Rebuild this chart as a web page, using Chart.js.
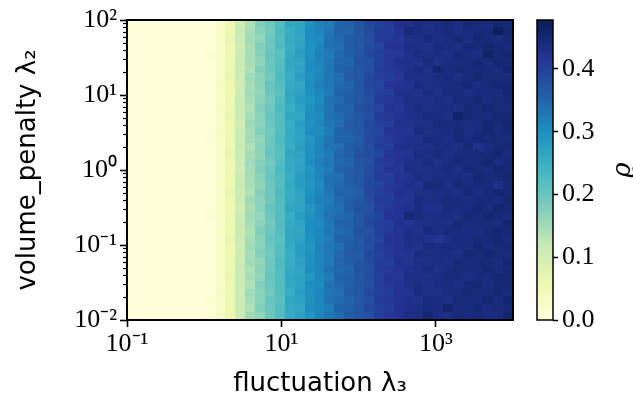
<!DOCTYPE html>
<html>
<head>
<meta charset="utf-8">
<script src="https://cdn.jsdelivr.net/npm/chart.js"></script>
<style>
  html, body { margin: 0; padding: 0; background: #fff; }
  #wrap { position: relative; width: 633px; height: 402px; }
  #mapa { position: absolute; left: 0; top: 0; }
  #barra { position: absolute; left: 530px; top: 0; }
</style>
</head>
<body>
<div id="wrap">
  <canvas id="mapa" width="633" height="402"></canvas>
  <canvas id="barra" width="103" height="402"></canvas>
</div>
<script>
// rango de los ejes (log)
const X_MIN = 0.1, X_MAX = 1e4;
const Y_MIN = 0.01, Y_MAX = 100;
const V_MAX = 0.478;

// nivel medio de rho por columna (izquierda -> derecha)
const nivelColumna = [
  0, 0, 0, 0, 0, 0, 0, 0,
  0.004, 0.025, 0.060,
  0.110, 0.145, 0.169, 0.196, 0.220, 0.258, 0.272, 0.296, 0.312, 0.329,
  0.345, 0.357, 0.369, 0.384, 0.400, 0.412, 0.421, 0.428, 0.432, 0.435,
  0.437, 0.439, 0.441, 0.442, 0.443, 0.445, 0.446, 0.448
];

// variacion de cada celda, fila de arriba primero (digito 4 = sin cambio)
const variacionCeldas = [
  "44444444 444 4354 4534 5354 4544 5453 4535 4354",
  "44444444 454 5443 5345 4453 4453 4754 4534 4485",
  "44444444 445 4534 4435 3545 4354 3445 4453 5434",
  "44444444 444 3454 5344 4535 4435 4543 5435 4543",
  "44444444 544 4445 3454 5344 4544 3454 4354 3745",
  "44444444 454 5434 4535 4453 5344 5435 3444 5354",
  "44444444 444 4354 4445 3454 4354 4453 7454 4435",
  "44444444 445 4543 5354 4435 4543 3544 4534 5443",
  "44444444 454 3445 4435 5443 4535 4354 4445 3454",
  "44444444 444 4534 3544 4354 4443 5435 3543 4435",
  "44444444 344 5443 4453 3545 4354 4543 4354 5344",
  "44444444 454 4354 5344 4453 5435 3454 4435 4543",
  "44444444 445 4445 4535 3544 4354 4445 4375 4354",
  "44444444 444 3544 4354 4435 4543 5344 5443 3545",
  "44444444 454 4453 4445 2354 4435 4354 4453 4534",
  "44444444 544 4534 5443 4453 3544 4435 4354 5443",
  "44444444 444 5344 4354 4535 4453 5443 4435 1344",
  "44444444 445 4435 3544 4354 5435 4354 5344 4453",
  "44444444 454 4543 4435 5443 4354 4445 3454 4534",
  "44444444 444 3454 5443 4354 4445 3544 4535 4354",
  "44444444 434 4445 4354 4535 4453 4354 4443 5445",
  "44444444 454 5434 4453 3544 4534 4435 5354 4414",
  "44444444 445 4354 5344 4453 3544 5344 4435 3454",
  "44444444 444 4543 4435 5344 4453 4354 4543 4435",
  "44444444 454 3445 4543 4435 5344 4453 3544 5354",
  "44444444 544 4534 4354 4543 4435 4754 4435 4543",
  "44444444 444 5443 4445 3454 4543 5344 4354 4435",
  "44444444 454 4354 4535 4443 5344 4435 4543 3454",
  "44444444 445 4445 3544 4354 4435 4543 1344 4453",
  "44444444 444 3544 4453 5435 4354 4435 4543 5344",
  "44444444 454 4453 4354 4445 3544 4354 4435 4543",
  "44444444 344 4534 5344 4354 4453 5344 4354 4435",
  "44444444 454 5344 4435 4543 5354 4445 3454 4534",
  "44444444 445 4435 4543 4354 4445 3544 4543 4354",
  "44444444 444 4354 4445 3544 4354 4453 4435 5344",
  "44444444 454 4543 4354 4435 4543 4354 3445 4453",
  "44444444 544 4445 3544 4543 4354 4435 4354 4535",
  "44444444 444 4354 4435 4354 4543 4445 4744 5344",
  "44444444 454 4534 4443 4435 4354 4547 4354 4335"
];
const PASO = 0.006;

const xTicks = [0.1, 10, 1000];
const xTickLabels = ['10⁻¹', '10¹', '10³'];
const yTicks = [0.01, 0.1, 1, 10, 100];
const yTickLabels = ['10⁻²', '10⁻¹', '10⁰', '10¹', '10²'];
const cbTicks = [0, 0.1, 0.2, 0.3, 0.4];
const cbTickLabels = ['0.0', '0.1', '0.2', '0.3', '0.4'];

const YLGNBU = ['#ffffd9', '#edf8b1', '#c7e9b4', '#7fcdbb', '#41b6c4',
                '#1d91c0', '#225ea8', '#253494', '#081d58'];

// tabla de valores
const N_COLS = nivelColumna.length;
const N_ROWS = variacionCeldas.length;
const valores = variacionCeldas.map(fila => {
  const d = fila.replace(/ /g, '');
  return nivelColumna.map((v, c) => Math.max(0, v + (parseInt(d[c], 10) - 4) * PASO));
});

// bordes de la malla en coordenadas de datos
const xEdges = [], yEdges = [];
for (let k = 0; k <= N_COLS; k++) xEdges.push(X_MIN * Math.pow(X_MAX / X_MIN, k / N_COLS));
for (let k = 0; k <= N_ROWS; k++) yEdges.push(Y_MIN * Math.pow(Y_MAX / Y_MIN, k / N_ROWS));

function hexRgb(h) {
  return [parseInt(h.slice(1, 3), 16), parseInt(h.slice(3, 5), 16), parseInt(h.slice(5, 7), 16)];
}
const paleta = YLGNBU.map(hexRgb);

function colorDe(v) {
  let t = Math.min(Math.max(v / V_MAX, 0), 1) * (paleta.length - 1);
  let i = Math.min(Math.floor(t), paleta.length - 2);
  let f = t - i;
  const a = paleta[i], b = paleta[i + 1];
  return 'rgb(' + [0, 1, 2].map(k => Math.round(a[k] + (b[k] - a[k]) * f)).join(',') + ')';
}

const fuenteTicks = { family: 'Liberation Serif', size: 26 };
const fuenteTitulo = { family: 'DejaVu Sans', size: 26 };

// dibuja las celdas, el marco y los ticks menores del eje y
const pluginMapa = {
  id: 'mapaCalor',
  beforeDatasetsDraw(chart) {
    const { ctx, scales: { x, y } } = chart;
    ctx.save();
    for (let r = 0; r < N_ROWS; r++) {
      const yTop = y.getPixelForValue(yEdges[N_ROWS - r]);
      const yBot = y.getPixelForValue(yEdges[N_ROWS - r - 1]);
      for (let c = 0; c < N_COLS; c++) {
        const x0 = x.getPixelForValue(xEdges[c]);
        const x1 = x.getPixelForValue(xEdges[c + 1]);
        ctx.fillStyle = colorDe(valores[r][c]);
        ctx.fillRect(Math.floor(x0), Math.floor(yTop),
          Math.ceil(x1) - Math.floor(x0), Math.ceil(yBot) - Math.floor(yTop));
      }
    }
    ctx.restore();
  },
  afterDraw(chart) {
    const { ctx, chartArea: a, scales: { y } } = chart;
    ctx.save();
    ctx.strokeStyle = '#000';
    ctx.lineWidth = 1.2;
    for (let e = -2; e < 2; e++) {
      for (let m = 2; m <= 9; m++) {
        const py = Math.round(y.getPixelForValue(m * Math.pow(10, e))) + 0.5;
        ctx.beginPath();
        ctx.moveTo(a.left - 4, py);
        ctx.lineTo(a.left, py);
        ctx.stroke();
      }
    }
    ctx.lineWidth = 2;
    ctx.strokeRect(a.left, a.top, a.right - a.left, a.bottom - a.top);
    ctx.restore();
  }
};

new Chart(document.getElementById('mapa'), {
  type: 'scatter',
  data: { datasets: [{ data: [], pointRadius: 0 }] },
  options: {
    responsive: false,
    animation: false,
    layout: { padding: { top: 20, right: 120, left: 0, bottom: 0 } },
    plugins: { legend: { display: false }, tooltip: { enabled: false } },
    scales: {
      x: {
        type: 'logarithmic',
        min: X_MIN, max: X_MAX,
        afterBuildTicks: s => { s.ticks = xTicks.map(v => ({ value: v })); },
        afterFit: s => { s.height = 82; },
        ticks: {
          callback: (v, i) => xTickLabels[i],
          font: fuenteTicks, color: '#000', padding: 2,
          maxRotation: 0, autoSkip: false
        },
        grid: { drawOnChartArea: false, tickLength: 7, tickColor: '#000', tickWidth: 1.6 },
        border: { display: false },
        title: { display: true, text: 'fluctuation λ₃', font: fuenteTitulo, color: '#000', padding: 2 }
      },
      y: {
        type: 'logarithmic',
        min: Y_MIN, max: Y_MAX,
        afterBuildTicks: s => { s.ticks = yTicks.map(v => ({ value: v })); },
        afterFit: s => { s.width = 127; },
        ticks: {
          callback: (v, i) => yTickLabels[i],
          font: fuenteTicks, color: '#000', padding: 3, autoSkip: false
        },
        grid: { drawOnChartArea: false, tickLength: 7, tickColor: '#000', tickWidth: 1.6 },
        border: { display: false },
        title: { display: true, text: 'volume_penalty λ₂', font: fuenteTitulo, color: '#000', padding: 13 }
      }
    }
  },
  plugins: [pluginMapa]
});

// barra de color
const pluginBarra = {
  id: 'barraColor',
  beforeDatasetsDraw(chart) {
    const { ctx, chartArea: a, scales: { y } } = chart;
    const g = ctx.createLinearGradient(0, y.getPixelForValue(0), 0, y.getPixelForValue(V_MAX));
    YLGNBU.forEach((c, i) => g.addColorStop(i / (YLGNBU.length - 1), c));
    ctx.save();
    ctx.fillStyle = g;
    ctx.fillRect(a.left, a.top, a.right - a.left, a.bottom - a.top);
    ctx.strokeStyle = '#000';
    ctx.lineWidth = 1.5;
    ctx.strokeRect(a.left, a.top, a.right - a.left, a.bottom - a.top);
    ctx.restore();
  },
  afterDraw(chart) {
    const { ctx, chartArea: a } = chart;
    ctx.save();
    ctx.translate(93, (a.top + a.bottom) / 2);
    ctx.rotate(-Math.PI / 2);
    ctx.font = 'italic 26px "DejaVu Serif"';
    ctx.fillStyle = '#000';
    ctx.textAlign = 'center';
    ctx.textBaseline = 'middle';
    ctx.fillText('ϱ', 0, 0);
    ctx.restore();
  }
};

new Chart(document.getElementById('barra'), {
  type: 'scatter',
  data: { datasets: [{ data: [], pointRadius: 0 }] },
  options: {
    responsive: false,
    animation: false,
    layout: { padding: { top: 20, right: 0, left: 7, bottom: 82 } },
    plugins: { legend: { display: false }, tooltip: { enabled: false } },
    scales: {
      x: { display: false, min: 0, max: 1 },
      y: {
        position: 'right',
        min: 0, max: V_MAX,
        afterBuildTicks: s => { s.ticks = cbTicks.map(v => ({ value: v })); },
        afterFit: s => { s.width = 80; },
        ticks: { callback: (v, i) => cbTickLabels[i], font: fuenteTicks, color: '#000', padding: 4 },
        grid: { drawOnChartArea: false, tickLength: 5, tickColor: '#000', tickWidth: 1.5 },
        border: { display: false }
      }
    }
  },
  plugins: [pluginBarra]
});
</script>
</body>
</html>
